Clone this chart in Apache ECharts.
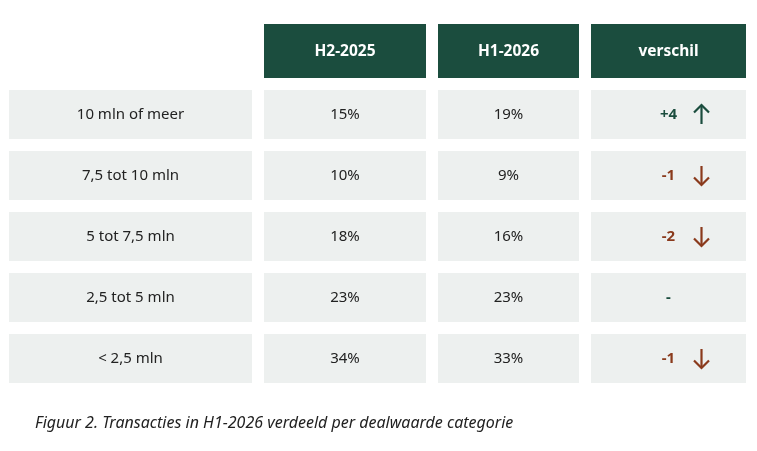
<!DOCTYPE html>
<html>
<head>
<meta charset="utf-8">
<script src="https://cdn.jsdelivr.net/npm/echarts@6/dist/echarts.min.js"></script>
<style>
  html, body { margin: 0; padding: 0; background: #fff; }
  #chart { width: 757px; height: 451px; }
</style>
</head>
<body>
<div id="chart"></div>
<script>
// Table contents
const columns = ['', 'H2-2025', 'H1-2026', 'verschil']
const categories = ['10 mln of meer', '7,5 tot 10 mln', '5 tot 7,5 mln', '2,5 tot 5 mln', '< 2,5 mln']
const h2_2025 = [15, 10, 18, 23, 34]
const h1_2026 = [19, 9, 16, 23, 33]
const verschil = [4, -1, -2, 0, -1]
const caption = 'Figuur 2. Transacties in H1-2026 verdeeld per dealwaarde categorie'

// Layout, in pixel units of the hidden axes
const colEdges = [[9, 252], [264, 426], [438, 579], [591, 746]]
const headerTop = 24
const headerH = 54
const rowTop = 90
const rowH = 49
const rowStep = 61

const GREEN = '#1b4d3e'
const RED = '#8a3a1c'
const CELL = '#edf0ef'
const FONT = '"Noto Sans", sans-serif'

const chart = echarts.init(document.getElementById('chart'))

// one data item per cell: [column, row]; row -1 is the header
const cells = []
columns.forEach((name, c) => { if (name) cells.push([c, -1]) })
categories.forEach((cat, r) => {
  for (let c = 0; c < columns.length; c++) cells.push([c, r])
})

const cellText = (c, r) => {
  if (r < 0) return columns[c]
  if (c === 0) return categories[r]
  if (c === 1) return h2_2025[r] + '%'
  if (c === 2) return h1_2026[r] + '%'
  const v = verschil[r]
  return v > 0 ? '+' + v : v < 0 ? String(v) : '-'
}

function renderCell(params, api) {
  const c = api.value(0)
  const r = api.value(1)
  const y0 = r < 0 ? headerTop : rowTop + r * rowStep
  const h = r < 0 ? headerH : rowH
  const p0 = api.coord([colEdges[c][0], y0])
  const p1 = api.coord([colEdges[c][1], y0 + h])
  const cx = (p0[0] + p1[0]) / 2
  const cy = (p0[1] + p1[1]) / 2

  const isDiff = c === 3 && r >= 0
  const v = isDiff ? verschil[r] : 0
  const textColor = r < 0 ? '#fff' : isDiff ? (v < 0 ? RED : GREEN) : '#222'
  const font = r < 0 ? 'bold 15.5px ' : isDiff ? 'bold 15px ' : '15px '

  const children = [
    { type: 'rect', shape: { x: p0[0], y: p0[1], width: p1[0] - p0[0], height: p1[1] - p0[1] },
      style: { fill: r < 0 ? GREEN : CELL } },
    { type: 'text', x: cx, y: cy + 0.5,
      style: { text: cellText(c, r), fill: textColor, font: font + FONT,
        align: 'center', verticalAlign: 'middle', textAlign: 'center', textVerticalAlign: 'middle' } }
  ]

  // trend arrow next to the difference
  if (isDiff && v !== 0) {
    const ax = cx + 33
    const dir = v > 0 ? -1 : 1
    const tip = cy + dir * 9.5
    const tail = cy - dir * 9.5
    const arrowStyle = { stroke: textColor, lineWidth: 2.2, fill: null }
    children.push(
      { type: 'line', shape: { x1: ax, y1: tail, x2: ax, y2: tip }, style: arrowStyle },
      { type: 'polyline',
        shape: { points: [[ax - 7.5, tip - dir * 7.5], [ax, tip], [ax + 7.5, tip - dir * 7.5]] },
        style: arrowStyle }
    )
  }
  return { type: 'group', children }
}

chart.setOption({
  animation: false,
  title: {
    text: caption,
    left: 30,
    top: 410,
    textStyle: { fontFamily: FONT, fontStyle: 'italic', fontWeight: 'normal', fontSize: 16, color: '#222' }
  },
  grid: { left: 0, right: 0, top: 0, bottom: 0 },
  xAxis: { type: 'value', min: 0, max: 757, show: false },
  yAxis: { type: 'value', min: 0, max: 451, inverse: true, show: false },
  series: [{
    type: 'custom',
    silent: true,
    clip: false,
    renderItem: renderCell,
    data: cells
  }]
})
</script>
</body>
</html>
